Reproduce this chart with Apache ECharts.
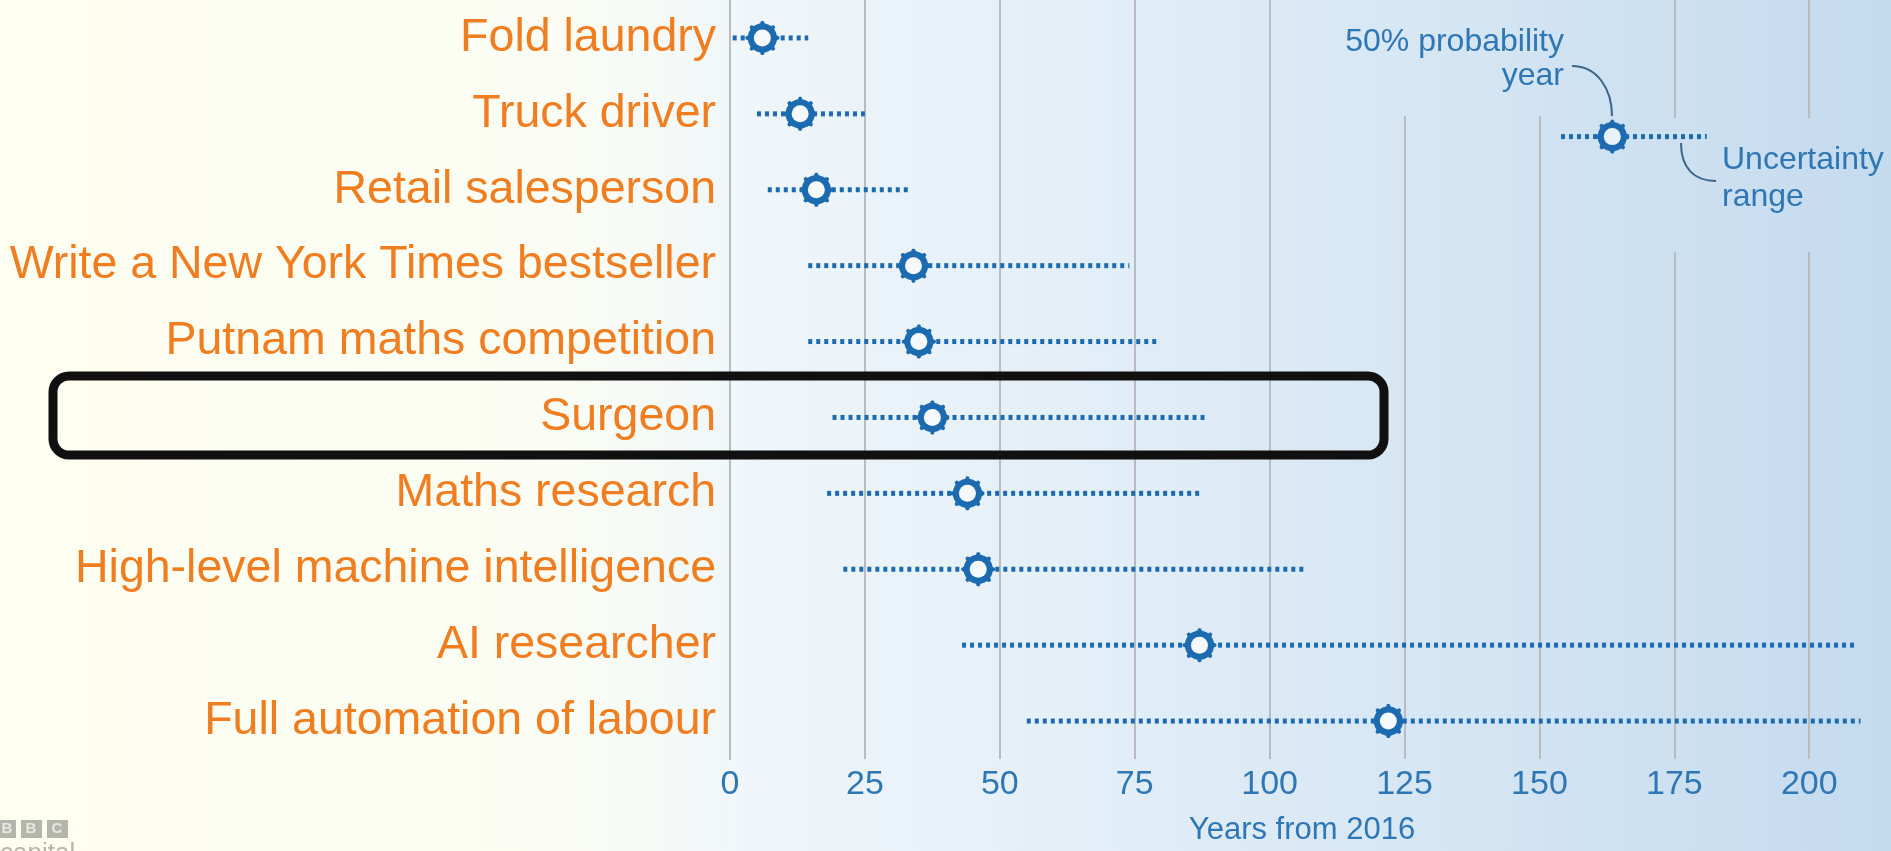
<!DOCTYPE html>
<html>
<head>
<meta charset="utf-8">
<title>When will AI outperform humans</title>
<script src="https://cdn.jsdelivr.net/npm/echarts@6/dist/echarts.min.js"></script>
<style>
  html, body { margin: 0; padding: 0; }
  #main { width: 1891px; height: 851px; }
</style>
</head>
<body>
<div id="main"></div>
<script>
// tasks, top to bottom
const categories = [
  "Fold laundry",
  "Truck driver",
  "Retail salesperson",
  "Write a New York Times bestseller",
  "Putnam maths competition",
  "Surgeon",
  "Maths research",
  "High-level machine intelligence",
  "AI researcher",
  "Full automation of labour"
];
// years from 2016
const lowYears = [0.5, 5, 7, 14.5, 14.5, 19, 18, 21, 43, 55];
const medianYears = [6, 13, 16, 34, 35, 37.5, 44, 46, 87, 122];
const highYears = [14.5, 25, 33, 74, 79.5, 88, 87, 106.5, 209, 209.5];
const xTicks = [0, 25, 50, 75, 100, 125, 150, 175, 200];

// the little key in the top right corner
const keyLow = [154];
const keyMedian = [163.5];
const keyHigh = [181];
const keyRow = [1.3];

const blue = "#1c6bb0";
const orange = "#f07d1f";
const font = '"Liberation Sans", Arial, sans-serif';

const bgStops = [
  { offset: 0, color: "#fefff0" },
  { offset: 0.3, color: "#fbfdf4" },
  { offset: 0.4, color: "#eff6fa" },
  { offset: 0.6, color: "#e1edf7" },
  { offset: 1, color: "#c4dbee" }
];
function bg() {
  return new echarts.graphic.LinearGradient(0, 0, 1891, 0, bgStops, true);
}

// cog shaped marker, outer outline only (hole is drawn by a second series)
function gearSymbol() {
  let pts = [];
  for (let i = 0; i < 128; i++) {
    let t = (i / 128) * Math.PI * 2;
    let k = Math.min(1, Math.max(0, (Math.cos(8 * t) - 0.35) / 0.45));
    let r = 43 + 7 * k;
    pts.push((50 + r * Math.cos(t)).toFixed(2) + " " + (50 + r * Math.sin(t)).toFixed(2));
  }
  return "path://M" + pts.join(" L") + " Z";
}

function rangeItem(params, api) {
  let a = api.coord([api.value(0), api.value(2)]);
  let b = api.coord([api.value(1), api.value(2)]);
  return {
    type: "line",
    shape: { x1: a[0], y1: a[1], x2: b[0], y2: b[1] },
    style: { stroke: blue, lineWidth: 5, lineDash: [4, 4] }
  };
}

const rangeData = lowYears.map((v, i) => [v, highYears[i], i]);
const medianData = medianYears.map((v, i) => [v, i]);
const keyRange = keyLow.map((v, i) => [v, keyHigh[i], keyRow[i]]);
const keyPoint = keyMedian.map((v, i) => [v, keyRow[i]]);

let myChart = echarts.init(document.getElementById("main"));
myChart.setOption({
  backgroundColor: bg(),
  animation: false,
  textStyle: { fontFamily: font },
  grid: { left: 730, right: 17, top: -4, bottom: 89 },
  xAxis: {
    type: "value",
    min: 0,
    max: 212,
    interval: 25,
    axisLine: { show: false },
    axisTick: { show: false },
    axisLabel: {
      color: "#2f76b4",
      fontSize: 34,
      margin: 9,
      showMaxLabel: false,
      formatter: v => (xTicks.indexOf(v) >= 0 ? String(v) : "")
    },
    splitLine: {
      show: true,
      showMaxLine: false,
      lineStyle: { color: "#b8bcc0", width: 2 }
    },
    name: "Years from 2016",
    nameLocation: "middle",
    nameGap: 56,
    nameTextStyle: { color: "#2f76b4", fontSize: 31 }
  },
  yAxis: [
    {
      type: "category",
      data: categories,
      inverse: true,
      axisLine: { show: true, lineStyle: { color: "#b8bcc0", width: 2 } },
      axisTick: { show: false },
      axisLabel: { color: orange, fontSize: 46.5, margin: 14 },
      splitLine: { show: false }
    },
    {
      type: "value",
      min: -0.5,
      max: 9.5,
      inverse: true,
      show: false
    }
  ],
  series: [
    {
      type: "custom",
      yAxisIndex: 0,
      data: rangeData,
      encode: { x: [0, 1], y: 2 },
      renderItem: rangeItem,
      z: 2
    },
    {
      type: "scatter",
      yAxisIndex: 0,
      data: medianData,
      symbol: gearSymbol(),
      symbolSize: 34,
      itemStyle: { color: blue, opacity: 1 },
      z: 3
    },
    {
      type: "scatter",
      yAxisIndex: 0,
      data: medianData,
      symbol: "circle",
      symbolSize: 17,
      itemStyle: { color: "#f5f9fc", opacity: 1 },
      z: 4
    },
    // key
    {
      type: "custom",
      yAxisIndex: 1,
      data: keyRange,
      encode: { x: [0, 1], y: 2 },
      renderItem: rangeItem,
      z: 2
    },
    {
      type: "scatter",
      yAxisIndex: 1,
      data: keyPoint,
      symbol: gearSymbol(),
      symbolSize: 34,
      itemStyle: { color: blue, opacity: 1 },
      z: 3
    },
    {
      type: "scatter",
      yAxisIndex: 1,
      data: keyPoint,
      symbol: "circle",
      symbolSize: 17,
      itemStyle: { color: "#eaf2f9", opacity: 1 },
      z: 4
    }
  ],
  graphic: [
    // gaps in the grid lines behind the key text
    { type: "rect", z: 1, silent: true, shape: { x: 1345, y: 0, width: 240, height: 116 }, style: { fill: bg() } },
    { type: "rect", z: 1, silent: true, shape: { x: 1600, y: 118, width: 291, height: 134 }, style: { fill: bg() } },
    { type: "text", z: 5, style: { text: "50% probability", x: 1564, y: 42, align: "right", verticalAlign: "middle", font: "32px " + font, fill: "#2f76b4" } },
    { type: "text", z: 5, style: { text: "year", x: 1564, y: 76, align: "right", verticalAlign: "middle", font: "32px " + font, fill: "#2f76b4" } },
    { type: "text", z: 5, style: { text: "Uncertainty", x: 1722, y: 160, align: "left", verticalAlign: "middle", font: "32px " + font, fill: "#2f76b4" } },
    { type: "text", z: 5, style: { text: "range", x: 1722, y: 197, align: "left", verticalAlign: "middle", font: "32px " + font, fill: "#2f76b4" } },
    { type: "bezierCurve", z: 5, shape: { x1: 1572, y1: 66, cpx1: 1598, cpy1: 66, cpx2: 1612, cpy2: 90, x2: 1612, y2: 116 }, style: { stroke: "#3d6385", lineWidth: 2, fill: null } },
    { type: "bezierCurve", z: 5, shape: { x1: 1681, y1: 143, cpx1: 1681, cpy1: 168, cpx2: 1694, cpy2: 181, x2: 1716, y2: 181 }, style: { stroke: "#3d6385", lineWidth: 2, fill: null } },
    // highlight box round Surgeon
    { type: "rect", z: 10, shape: { x: 53, y: 376, width: 1331, height: 79, r: 16 }, style: { fill: null, stroke: "#101010", lineWidth: 9 } },
    // BBC capital logo, cut off at the edge
    { type: "rect", z: 5, shape: { x: -4, y: 820, width: 20, height: 18 }, style: { fill: "#b4b6ac" } },
    { type: "rect", z: 5, shape: { x: 21, y: 820, width: 21, height: 18 }, style: { fill: "#b4b6ac" } },
    { type: "rect", z: 5, shape: { x: 47, y: 820, width: 21, height: 18 }, style: { fill: "#b4b6ac" } },
    { type: "text", z: 6, style: { text: "B", x: 7, y: 829, align: "center", verticalAlign: "middle", font: "bold 15px " + font, fill: "#e8e9e2" } },
    { type: "text", z: 6, style: { text: "B", x: 31, y: 829, align: "center", verticalAlign: "middle", font: "bold 15px " + font, fill: "#e8e9e2" } },
    { type: "text", z: 6, style: { text: "C", x: 57, y: 829, align: "center", verticalAlign: "middle", font: "bold 15px " + font, fill: "#e8e9e2" } },
    { type: "text", z: 6, style: { text: "capital", x: 0, y: 841, align: "left", verticalAlign: "top", font: "26px " + font, fill: "#b4b6ac" } }
  ]
});
</script>
</body>
</html>
